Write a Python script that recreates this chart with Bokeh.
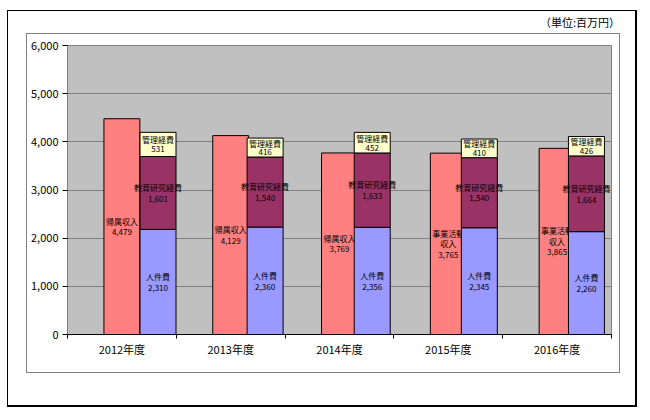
from bokeh.plotting import figure
from bokeh.models import Range1d, NumeralTickFormatter, FixedTicker, Div
from bokeh.layouts import column
from bokeh.core.properties import value
from bokeh.embed import file_html
from bokeh.resources import INLINE

# Fiscal-year data (millions of yen)
years = ["2012年度", "2013年度", "2014年度", "2015年度", "2016年度"]
income = [4479, 4129, 3769, 3765, 3865]
income_names = ["帰属収入", "帰属収入", "帰属収入", "事業活動\n収入", "事業活動\n収入"]
personnel = [2310, 2360, 2356, 2345, 2260]
research = [1601, 1540, 1633, 1540, 1664]
admin = [531, 416, 452, 410, 426]
y_ticks = [0, 1000, 2000, 3000, 4000, 5000, 6000]
unit_text = "（単位:百万円）"

FONT = "Noto Sans CJK JP"

centers = [i + 0.5 for i in range(len(years))]
boundaries = [float(i) for i in range(len(years) + 1)]

p = figure(width=594, height=340,
           x_range=Range1d(0, len(years)), y_range=Range1d(0, 6000),
           output_backend="svg", toolbar_location=None,
           min_border_left=40, min_border_right=10,
           min_border_top=11, min_border_bottom=40,
           background_fill_color="#C0C0C0", border_fill_color="white",
           outline_line_color="#808080", margin=0,
           styles={"border": "1px solid #808080"})

# the expense stack sits on its own (secondary) x and y scales
p.extra_y_ranges = {"stack": Range1d(0, 6350)}
p.extra_x_ranges = {"stack": Range1d(-0.345, 4.734)}

# grid and axes
p.xgrid.grid_line_color = None
p.ygrid.grid_line_color = "#808080"
p.ygrid.grid_line_width = 1

p.yaxis.ticker = FixedTicker(ticks=y_ticks)
p.yaxis.formatter = NumeralTickFormatter(format="0,0")
p.yaxis.major_label_text_font = FONT
p.yaxis.major_label_text_font_size = "11px"
p.yaxis.major_label_text_color = "black"
p.yaxis.axis_line_color = "#808080"
p.yaxis.major_tick_line_color = "black"
p.yaxis.major_tick_out = 5
p.yaxis.major_tick_in = 0
p.yaxis.minor_tick_line_color = None
p.yaxis.major_label_standoff = 4

p.xaxis.ticker = FixedTicker(ticks=centers, minor_ticks=boundaries)
p.xaxis.major_label_overrides = {c: y for c, y in zip(centers, years)}
p.xaxis.major_label_text_font = FONT
p.xaxis.major_label_text_font_size = "11px"
p.xaxis.major_label_text_color = "black"
p.xaxis.axis_line_color = "black"
p.xaxis.major_tick_line_color = None
p.xaxis.minor_tick_line_color = "black"
p.xaxis.minor_tick_out = 4
p.xaxis.minor_tick_in = 0
p.xaxis.major_label_standoff = 0

text_style = dict(text_align="center", text_baseline="middle",
                  text_font=value(FONT), text_font_size="8px",
                  text_color="black")

# income bars and their labels (primary scales)
p.vbar(x=centers, top=income, width=0.33, fill_color="#FF8080",
       line_color="black", line_width=1)
p.text(x=centers, y=[v / 2 for v in income],
       text=[f"{n}\n{v:,}" for n, v in zip(income_names, income)],
       text_line_height=0.96, **text_style)

# expense stack (secondary scales), drawn over the income bars
top_personnel = personnel
top_research = [a + b for a, b in zip(personnel, research)]
top_admin = [a + b for a, b in zip(top_research, admin)]
on_stack = dict(x_range_name="stack", y_range_name="stack")

p.vbar(x=centers, bottom=0, top=top_personnel, width=0.336,
       fill_color="#9999FF", line_color="black", line_width=1, **on_stack)
p.vbar(x=centers, bottom=top_personnel, top=top_research, width=0.336,
       fill_color="#993366", line_color="black", line_width=1, **on_stack)
p.vbar(x=centers, bottom=top_research, top=top_admin, width=0.336,
       fill_color="#FFFFCC", line_color="black", line_width=1, **on_stack)

p.text(x=centers, y=[v / 2 for v in personnel],
       text=[f"人件費\n{v:,}" for v in personnel],
       text_line_height=0.96, **on_stack, **text_style)
p.text(x=centers, y=[b + v / 2 for b, v in zip(personnel, research)],
       text=[f"教育研究経費\n{v:,}" for v in research],
       text_line_height=0.96, **on_stack, **text_style)
p.text(x=centers, y=[b + v / 2 for b, v in zip(top_research, admin)],
       text=[f"管理経費\n{v:,}" for v in admin],
       text_line_height=0.81, **on_stack, **text_style)

# unit note above the chart box
unit = Div(text=unit_text, width=596, height=22, margin=0,
           styles={"text-align": "right", "font-family": FONT,
                   "font-size": "11px", "line-height": "22px",
                   "color": "black", "margin-right": "-6px"})

page = column(unit, p, spacing=0,
              styles={"border": "1px solid black",
                      "border-right-width": "2px",
                      "border-bottom-width": "2px",
                      "margin-left": "7px", "margin-top": "10px",
                      "padding-left": "18px", "padding-right": "15px",
                      "padding-bottom": "32px"})

open("out.html", "w").write(file_html(page, INLINE))
